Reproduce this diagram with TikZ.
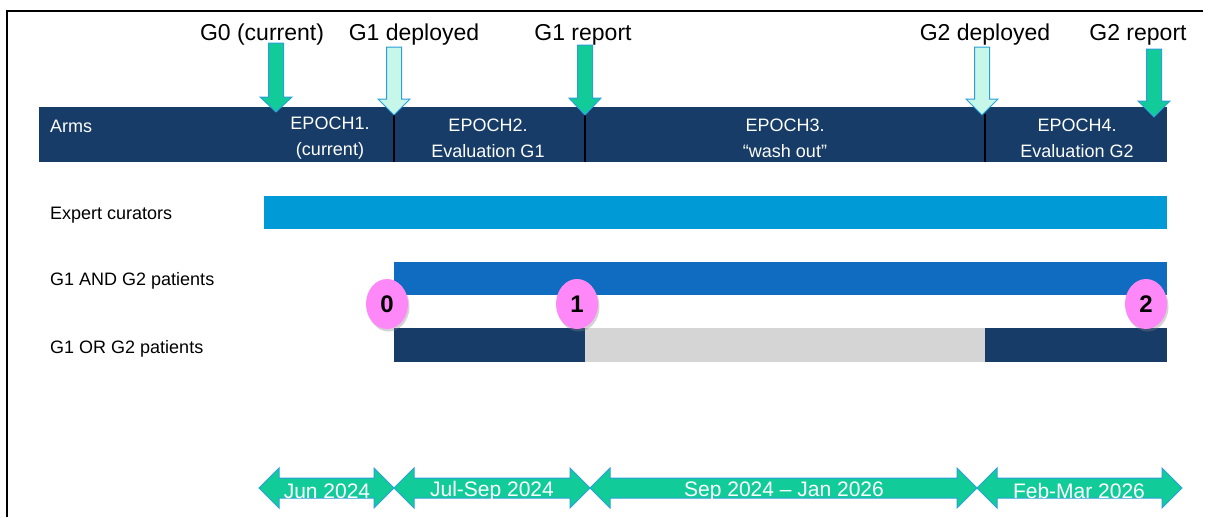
\documentclass[tikz,border=0pt]{standalone}
\usepackage{fontspec}
\setmainfont{Liberation Sans}
\usepackage{tikz}
\usetikzlibrary{shapes.geometric,shadows}

\definecolor{navy}{RGB}{22,60,103}
\definecolor{curblue}{RGB}{0,154,215}
\definecolor{andblue}{RGB}{15,108,192}
\definecolor{washgrey}{RGB}{213,213,213}
\definecolor{mint}{RGB}{17,204,153}
\definecolor{palemint}{RGB}{198,247,232}
\definecolor{edgeblue}{RGB}{42,159,216}
\definecolor{pinkdot}{RGB}{255,136,248}

\begin{document}
\begin{tikzpicture}[x=1pt,y=-1pt,
                    top label/.style={font=\fontsize{23}{25}\selectfont,inner sep=0pt},
                    arm label/.style={anchor=west,font=\fontsize{18}{20}\selectfont,inner sep=0pt},
                    epoch label/.style={align=center,text=white,font=\fontsize{18}{26}\selectfont,inner sep=0pt},
                    date label/.style={text=white,font=\fontsize{21}{23}\selectfont,inner sep=0pt},
                    dot node/.style={ellipse,fill=pinkdot,minimum width=42pt,minimum height=50pt,inner sep=0pt,
                                     font=\bfseries\fontsize{24}{26}\selectfont,
                                     drop shadow={opacity=0.35,shadow xshift=1.5pt,shadow yshift=-2.5pt}},
                    mark arrow/.style={draw=edgeblue,line width=1pt},
                    date arrow/.style={fill=mint,draw=edgeblue,line width=1pt}]

  \useasboundingbox (0,0) rectangle (1212,517);
  \draw[line width=1.5pt] (7,517) -- (7,11) -- (1203,11);

  % rows
  \fill[navy] (39,107) rectangle (1167,162);
  \fill[curblue] (264,196) rectangle (1167,229);
  \fill[andblue] (394,262) rectangle (1167,295);
  \fill[navy] (394,328) rectangle (585,362);
  \fill[washgrey] (585,328) rectangle (985,362);
  \fill[navy] (985,328) rectangle (1167,362);
  \foreach \x in {394,585,985}
    \draw[line width=1.6pt] (\x,114) -- (\x,162);

  \node[arm label,text=white] (arms) at (50,126) {Arms};
  \node[epoch label] (e1) at (330,138) {EPOCH1.\\(current)};
  \node[epoch label] (e2) at (488,138) {EPOCH2.\\Evaluation G1};
  \node[epoch label] (e3) at (785,138) {EPOCH3.\\“wash out”};
  \node[epoch label] (e4) at (1077,138) {EPOCH4.\\Evaluation G2};

  \node[arm label] (cur) at (50,215) {Expert curators};
  \node[arm label] (and) at (50,281) {G1 AND G2 patients};
  \node[arm label] (or) at (50,349) {G1 OR G2 patients};

  % milestones
  \node[top label] (g0) at (262,35) {G0 (current)};
  \node[top label] (g1d) at (414,35) {G1 deployed};
  \node[top label] (g1r) at (583,35) {G1 report};
  \node[top label] (g2d) at (985,35) {G2 deployed};
  \node[top label] (g2r) at (1138,35) {G2 report};
  \foreach \cx/\ya/\yb/\yc/\col in {276/43/97/112/mint, 394/47/99/115/palemint, 585/45/98/115/mint,
                                   982/47/99/115/palemint, 1154/49/101/117/mint}
    \filldraw[mark arrow,fill=\col] (\cx-7.5,\ya) -- (\cx+7.5,\ya) -- (\cx+7.5,\yb) -- (\cx+16,\yb)
      -- (\cx,\yc) -- (\cx-16,\yb) -- (\cx-7.5,\yb) -- cycle;

  \node[dot node] (c0) at (387,304) {0};
  \node[dot node] (c1) at (577,304) {1};
  \node[dot node] (c2) at (1146,304) {2};

  % dates
  \foreach \xa/\xb in {259/394, 394/590, 590/977, 977/1182}
    \filldraw[date arrow] (\xa,488) -- (\xa+20,468) -- (\xa+20,478) -- (\xb-20,478) -- (\xb-20,468)
      -- (\xb,488) -- (\xb-20,508) -- (\xb-20,498) -- (\xa+20,498) -- (\xa+20,508) -- cycle;
  \node[date label] (d1) at (327,491) {Jun 2024};
  \node[date label] (d2) at (492,491) {Jul-Sep 2024};
  \node[date label] (d3) at (784,491) {Sep 2024 – Jan 2026};
  \node[date label] (d4) at (1079,491) {Feb-Mar 2026};
\end{tikzpicture}
\end{document}
